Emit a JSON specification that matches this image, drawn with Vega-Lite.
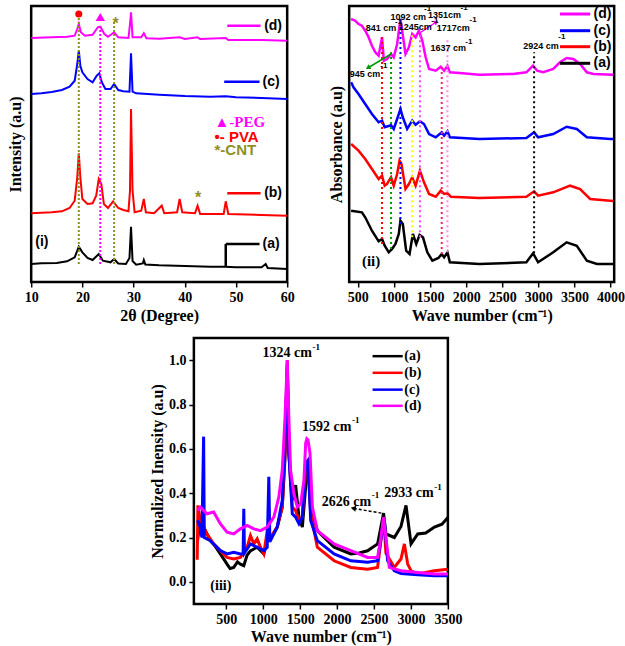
{
"$schema": "https://vega.github.io/schema/vega-lite/v6.json",
"padding": {"left": 5, "top": 2, "right": 0, "bottom": 0},
"config": {
  "view": {"stroke": "#000", "strokeWidth": 2.5},
  "axis": {"domain": false, "grid": false, "labelFont": "Liberation Serif", "labelFontWeight": "bold", "labelFontSize": 14, "labelColor": "#000", "titleFont": "Liberation Serif", "titleFontWeight": "bold", "titleFontSize": 16, "titleColor": "#000", "tickColor": "#000", "tickWidth": 1.5, "tickSize": 5, "labelPadding": 3, "labelOverlap": false, "labelFlush": false}
},
"datasets": {
  "xrd": [
    {"s":"a","x":10,"y":18},{"s":"a","x":12,"y":18.7},{"s":"a","x":15,"y":19},{"s":"a","x":17,"y":20.7},{"s":"a","x":18.5,"y":24.7},{"s":"a","x":19.3,"y":35.3},{"s":"a","x":20,"y":29.7},{"s":"a","x":21,"y":24},{"s":"a","x":22,"y":22},{"s":"a","x":23.2,"y":28},{"s":"a","x":24,"y":21.3},{"s":"a","x":25.5,"y":19.7},{"s":"a","x":26.2,"y":23},{"s":"a","x":27,"y":18.5},{"s":"a","x":28.5,"y":18},{"s":"a","x":29.2,"y":24},{"s":"a","x":29.5,"y":55.3},{"s":"a","x":29.8,"y":21},{"s":"a","x":30.5,"y":17.3},{"s":"a","x":31.8,"y":18.5},{"s":"a","x":32,"y":22},{"s":"a","x":32.3,"y":17.5},{"s":"a","x":35,"y":16.7},{"s":"a","x":40,"y":16},{"s":"a","x":45,"y":15.3},{"s":"a","x":47.8,"y":15.3},{"s":"a","x":50,"y":14.7},{"s":"a","x":55,"y":14.7},{"s":"a","x":55.8,"y":18},{"s":"a","x":56.2,"y":14},{"s":"a","x":60,"y":13},
    {"s":"b","x":10,"y":68.7},{"s":"b","x":12,"y":69.3},{"s":"b","x":14,"y":69.7},{"s":"b","x":16,"y":70.7},{"s":"b","x":17.5,"y":74},{"s":"b","x":18.5,"y":81.3},{"s":"b","x":19,"y":104.7},{"s":"b","x":19.3,"y":128.7},{"s":"b","x":19.6,"y":104.7},{"s":"b","x":20,"y":83},{"s":"b","x":21,"y":78},{"s":"b","x":22,"y":78.7},{"s":"b","x":22.7,"y":86.3},{"s":"b","x":23.2,"y":103},{"s":"b","x":23.7,"y":98},{"s":"b","x":24.2,"y":78},{"s":"b","x":25,"y":74},{"s":"b","x":26,"y":80.7},{"s":"b","x":27,"y":74},{"s":"b","x":28,"y":72},{"s":"b","x":29,"y":70.7},{"s":"b","x":29.3,"y":91.3},{"s":"b","x":29.5,"y":173},{"s":"b","x":29.8,"y":91.3},{"s":"b","x":30.2,"y":69.7},{"s":"b","x":31.5,"y":71.3},{"s":"b","x":32,"y":83},{"s":"b","x":32.4,"y":69.7},{"s":"b","x":34,"y":68.7},{"s":"b","x":35.5,"y":76.3},{"s":"b","x":36,"y":68.7},{"s":"b","x":38.5,"y":69.7},{"s":"b","x":39,"y":83},{"s":"b","x":39.5,"y":69.7},{"s":"b","x":42,"y":68.7},{"s":"b","x":42.5,"y":76.3},{"s":"b","x":43,"y":68},{"s":"b","x":47.6,"y":68},{"s":"b","x":48,"y":80.7},{"s":"b","x":48.5,"y":68},{"s":"b","x":55,"y":67},{"s":"b","x":60,"y":66.3},
    {"s":"c","x":10,"y":188},{"s":"c","x":12,"y":188.7},{"s":"c","x":14,"y":190},{"s":"c","x":16,"y":192},{"s":"c","x":17.5,"y":195.3},{"s":"c","x":18.5,"y":201.3},{"s":"c","x":19,"y":218},{"s":"c","x":19.3,"y":231.3},{"s":"c","x":19.6,"y":216.3},{"s":"c","x":20,"y":209.7},{"s":"c","x":21,"y":203},{"s":"c","x":22,"y":199.7},{"s":"c","x":22.8,"y":206.3},{"s":"c","x":23.3,"y":208.7},{"s":"c","x":23.8,"y":199.7},{"s":"c","x":24.5,"y":193},{"s":"c","x":25.5,"y":193},{"s":"c","x":26.2,"y":198},{"s":"c","x":27,"y":192},{"s":"c","x":28,"y":190.7},{"s":"c","x":29.2,"y":190.3},{"s":"c","x":29.5,"y":228.7},{"s":"c","x":29.8,"y":190.3},{"s":"c","x":30.5,"y":188.7},{"s":"c","x":35,"y":187.3},{"s":"c","x":40,"y":186},{"s":"c","x":45,"y":185.3},{"s":"c","x":48,"y":185.7},{"s":"c","x":50,"y":184.7},{"s":"c","x":55,"y":184},{"s":"c","x":60,"y":183},
    {"s":"d","x":10,"y":244},{"s":"d","x":14,"y":244.7},{"s":"d","x":17,"y":245.3},{"s":"d","x":18.5,"y":246.3},{"s":"d","x":19,"y":253},{"s":"d","x":19.3,"y":258},{"s":"d","x":19.7,"y":249.7},{"s":"d","x":20.5,"y":246.3},{"s":"d","x":22,"y":247.3},{"s":"d","x":23,"y":254.7},{"s":"d","x":23.5,"y":255.3},{"s":"d","x":24.3,"y":248},{"s":"d","x":25,"y":245.3},{"s":"d","x":26.2,"y":249.7},{"s":"d","x":27,"y":244.7},{"s":"d","x":29,"y":244},{"s":"d","x":29.3,"y":258},{"s":"d","x":29.5,"y":269.7},{"s":"d","x":29.8,"y":244.7},{"s":"d","x":31.5,"y":244.7},{"s":"d","x":32,"y":248.7},{"s":"d","x":32.5,"y":243.7},{"s":"d","x":35,"y":243.3},{"s":"d","x":39,"y":244.7},{"s":"d","x":40,"y":243},{"s":"d","x":42.5,"y":244.7},{"s":"d","x":43,"y":243},{"s":"d","x":48,"y":244},{"s":"d","x":48.5,"y":242},{"s":"d","x":55,"y":242},{"s":"d","x":60,"y":241.3}
  ],
  "xrdDots": [{"k":"PVA","x":19.3,"y":18,"y2":265},{"k":"PEG","x":23.5,"y":18,"y2":258},{"k":"CNT","x":26.2,"y":18,"y2":262}],
  "xrdLeg": [{"s":"d","x":48.3,"x2":54.8,"y":256.3},{"s":"c","x":47.7,"x2":54.6,"y":200.3},{"s":"b","x":48.3,"x2":54.8,"y":88.7},{"s":"a","x":48,"x2":54.6,"y":38}],
  "xrdLegV": [{"s":"a","x":48,"y":15,"y2":38}],
  "xrdLegT": [{"t":"(d)","x":55.5,"y":256.3},{"t":"(c)","x":55.2,"y":200.3},{"t":"(b)","x":55.5,"y":88.7},{"t":"(a)","x":55.2,"y":38},{"t":"(i)","x":10.8,"y":40}],
  "ftir": [
    {"s":"a","x":407,"y":71.3},{"s":"a","x":556,"y":69.7},{"s":"a","x":602,"y":64.7},{"s":"a","x":695,"y":51.3},{"s":"a","x":788,"y":40.7},{"s":"a","x":835,"y":43},{"s":"a","x":872,"y":36.3},{"s":"a","x":928,"y":29.7},{"s":"a","x":974,"y":33},{"s":"a","x":1021,"y":38},{"s":"a","x":1067,"y":48},{"s":"a","x":1090,"y":61.3},{"s":"a","x":1123,"y":58},{"s":"a","x":1169,"y":31.3},{"s":"a","x":1216,"y":28},{"s":"a","x":1262,"y":48},{"s":"a","x":1309,"y":38},{"s":"a","x":1355,"y":47},{"s":"a","x":1402,"y":44.7},{"s":"a","x":1462,"y":29.7},{"s":"a","x":1532,"y":21.3},{"s":"a","x":1616,"y":24},{"s":"a","x":1662,"y":28},{"s":"a","x":1695,"y":24.7},{"s":"a","x":1741,"y":29.7},{"s":"a","x":1774,"y":19.7},{"s":"a","x":2183,"y":18},{"s":"a","x":2834,"y":19.7},{"s":"a","x":2927,"y":28.7},{"s":"a","x":2996,"y":19.7},{"s":"a","x":3206,"y":29.7},{"s":"a","x":3392,"y":39.7},{"s":"a","x":3532,"y":36.3},{"s":"a","x":3671,"y":21.3},{"s":"a","x":3811,"y":18},{"s":"a","x":4040,"y":18},
    {"s":"b","x":407,"y":138},{"s":"b","x":509,"y":131.3},{"s":"b","x":602,"y":123},{"s":"b","x":695,"y":113},{"s":"b","x":788,"y":103},{"s":"b","x":835,"y":106.3},{"s":"b","x":872,"y":96.3},{"s":"b","x":904,"y":98},{"s":"b","x":960,"y":104.7},{"s":"b","x":997,"y":96.3},{"s":"b","x":1044,"y":108},{"s":"b","x":1077,"y":121.3},{"s":"b","x":1104,"y":118},{"s":"b","x":1160,"y":93},{"s":"b","x":1207,"y":98},{"s":"b","x":1253,"y":104.7},{"s":"b","x":1300,"y":96.3},{"s":"b","x":1360,"y":111.3},{"s":"b","x":1416,"y":99.7},{"s":"b","x":1486,"y":88},{"s":"b","x":1579,"y":85.3},{"s":"b","x":1648,"y":91.3},{"s":"b","x":1695,"y":88},{"s":"b","x":1741,"y":88.7},{"s":"b","x":1788,"y":85.3},{"s":"b","x":2183,"y":84},{"s":"b","x":2834,"y":85.3},{"s":"b","x":2941,"y":90.7},{"s":"b","x":2996,"y":86.3},{"s":"b","x":3206,"y":89.7},{"s":"b","x":3439,"y":96.3},{"s":"b","x":3578,"y":93},{"s":"b","x":3717,"y":83},{"s":"b","x":3996,"y":81.3},{"s":"b","x":4040,"y":81},
    {"s":"c","x":407,"y":199.7},{"s":"c","x":440,"y":194.7},{"s":"c","x":509,"y":188},{"s":"c","x":602,"y":178},{"s":"c","x":695,"y":168},{"s":"c","x":788,"y":159.7},{"s":"c","x":835,"y":161.3},{"s":"c","x":872,"y":154.7},{"s":"c","x":960,"y":156.7},{"s":"c","x":997,"y":153},{"s":"c","x":1044,"y":163},{"s":"c","x":1090,"y":173},{"s":"c","x":1123,"y":164.7},{"s":"c","x":1183,"y":153},{"s":"c","x":1253,"y":161.3},{"s":"c","x":1300,"y":157.3},{"s":"c","x":1360,"y":160.7},{"s":"c","x":1416,"y":158},{"s":"c","x":1486,"y":148},{"s":"c","x":1579,"y":144.7},{"s":"c","x":1662,"y":149.7},{"s":"c","x":1695,"y":146.3},{"s":"c","x":1741,"y":150.7},{"s":"c","x":1774,"y":144.7},{"s":"c","x":2183,"y":143},{"s":"c","x":2834,"y":144},{"s":"c","x":2941,"y":149.7},{"s":"c","x":2996,"y":144.7},{"s":"c","x":3206,"y":148},{"s":"c","x":3392,"y":155.3},{"s":"c","x":3532,"y":153},{"s":"c","x":3671,"y":144.7},{"s":"c","x":3996,"y":143},{"s":"c","x":4040,"y":143},
    {"s":"d","x":407,"y":263},{"s":"d","x":463,"y":261.3},{"s":"d","x":509,"y":258},{"s":"d","x":556,"y":256.3},{"s":"d","x":602,"y":251.3},{"s":"d","x":649,"y":244.7},{"s":"d","x":695,"y":236.3},{"s":"d","x":742,"y":229.7},{"s":"d","x":788,"y":226.3},{"s":"d","x":835,"y":244.7},{"s":"d","x":860,"y":221.3},{"s":"d","x":904,"y":223},{"s":"d","x":960,"y":228},{"s":"d","x":997,"y":224.7},{"s":"d","x":1044,"y":238},{"s":"d","x":1090,"y":263},{"s":"d","x":1114,"y":251.3},{"s":"d","x":1160,"y":228},{"s":"d","x":1207,"y":234.7},{"s":"d","x":1253,"y":248},{"s":"d","x":1300,"y":244.7},{"s":"d","x":1346,"y":251.3},{"s":"d","x":1393,"y":241.3},{"s":"d","x":1439,"y":224.7},{"s":"d","x":1486,"y":213},{"s":"d","x":1579,"y":211.3},{"s":"d","x":1648,"y":215.3},{"s":"d","x":1695,"y":211.3},{"s":"d","x":1741,"y":216.3},{"s":"d","x":1774,"y":209.7},{"s":"d","x":1950,"y":208.7},{"s":"d","x":2183,"y":207.3},{"s":"d","x":2648,"y":208},{"s":"d","x":2834,"y":209.7},{"s":"d","x":2927,"y":216.3},{"s":"d","x":2983,"y":211.3},{"s":"d","x":3067,"y":209.7},{"s":"d","x":3206,"y":213},{"s":"d","x":3299,"y":219.7},{"s":"d","x":3392,"y":224},{"s":"d","x":3485,"y":223},{"s":"d","x":3578,"y":218},{"s":"d","x":3671,"y":209.7},{"s":"d","x":3764,"y":208},{"s":"d","x":4040,"y":207.3}
  ],
  "ftirDots": [{"k":"841","x":835,"y":38,"y2":244.7},{"k":"945","x":960,"y":33,"y2":229.7},{"k":"1092","x":1090,"y":58,"y2":261},{"k":"1245","x":1253,"y":44.7,"y2":248},{"k":"1351","x":1360,"y":44.7,"y2":250},{"k":"1637","x":1662,"y":28,"y2":216},{"k":"1717","x":1741,"y":29.7,"y2":244.7},{"k":"2924","x":2941,"y":28.7,"y2":229.7}],
  "ftirLab": [{"t":"841 cm","x":821,"y":254},{"t":"945 cm","x":598,"y":208},{"t":"1092 cm","x":1197,"y":265},{"t":"1245cm","x":1295,"y":254.7},{"t":"1351cm","x":1699,"y":267},{"t":"1717cm","x":1820,"y":254},{"t":"1637 cm","x":1751,"y":234},{"t":"2924 cm","x":3038,"y":236.3}],
  "ftirSup": [{"t":"-1","x":1016,"y":260},{"t":"-1","x":811,"y":216.3},{"t":"-1","x":1416,"y":273},{"t":"-1","x":1518,"y":261},{"t":"-1","x":1923,"y":274},{"t":"-1","x":2048,"y":262},{"t":"-1","x":1988,"y":239.7},{"t":"-1","x":3275,"y":244.7}],
  "ftirLeg": [{"s":"d","x":3299,"x2":3718,"y":268},{"s":"c","x":3299,"x2":3718,"y":251.3},{"s":"b","x":3299,"x2":3718,"y":235.3},{"s":"a","x":3299,"x2":3718,"y":218.7}],
  "ftirLegT": [{"t":"(d)","x":3764,"y":268},{"t":"(c)","x":3764,"y":251.3},{"t":"(b)","x":3764,"y":235.3},{"t":"(a)","x":3764,"y":218.7}],
  "raman": [
    {"s":"a","x":110,"y":0.186},{"s":"a","x":147,"y":0.29},{"s":"a","x":192,"y":0.247},{"s":"a","x":283,"y":0.186},{"s":"a","x":350,"y":0.16},{"s":"a","x":418,"y":0.126},{"s":"a","x":470,"y":0.1},{"s":"a","x":509,"y":0.08},{"s":"a","x":550,"y":0.06},{"s":"a","x":600,"y":0.065},{"s":"a","x":650,"y":0.09},{"s":"a","x":690,"y":0.08},{"s":"a","x":736,"y":0.073},{"s":"a","x":780,"y":0.12},{"s":"a","x":826,"y":0.14},{"s":"a","x":917,"y":0.156},{"s":"a","x":1007,"y":0.126},{"s":"a","x":1053,"y":0.186},{"s":"a","x":1098,"y":0.194},{"s":"a","x":1189,"y":0.247},{"s":"a","x":1257,"y":0.337},{"s":"a","x":1293,"y":0.55},{"s":"a","x":1325,"y":0.95},{"s":"a","x":1347,"y":0.58},{"s":"a","x":1393,"y":0.368},{"s":"a","x":1438,"y":0.436},{"s":"a","x":1483,"y":0.292},{"s":"a","x":1529,"y":0.247},{"s":"a","x":1574,"y":0.428},{"s":"a","x":1606,"y":0.55},{"s":"a","x":1642,"y":0.337},{"s":"a","x":1732,"y":0.231},{"s":"a","x":1959,"y":0.156},{"s":"a","x":2186,"y":0.126},{"s":"a","x":2300,"y":0.13},{"s":"a","x":2412,"y":0.14},{"s":"a","x":2548,"y":0.171},{"s":"a","x":2600,"y":0.26},{"s":"a","x":2629,"y":0.31},{"s":"a","x":2661,"y":0.216},{"s":"a","x":2775,"y":0.2},{"s":"a","x":2865,"y":0.25},{"s":"a","x":2933,"y":0.345},{"s":"a","x":3001,"y":0.171},{"s":"a","x":3092,"y":0.216},{"s":"a","x":3200,"y":0.22},{"s":"a","x":3318,"y":0.247},{"s":"a","x":3420,"y":0.26},{"s":"a","x":3500,"y":0.29},
    {"s":"b","x":105,"y":0.1},{"s":"b","x":115,"y":0.345},{"s":"b","x":147,"y":0.277},{"s":"b","x":237,"y":0.216},{"s":"b","x":328,"y":0.171},{"s":"b","x":418,"y":0.141},{"s":"b","x":509,"y":0.11},{"s":"b","x":600,"y":0.103},{"s":"b","x":690,"y":0.11},{"s":"b","x":781,"y":0.156},{"s":"b","x":826,"y":0.209},{"s":"b","x":872,"y":0.171},{"s":"b","x":917,"y":0.194},{"s":"b","x":962,"y":0.156},{"s":"b","x":1007,"y":0.126},{"s":"b","x":1053,"y":0.231},{"s":"b","x":1098,"y":0.201},{"s":"b","x":1189,"y":0.247},{"s":"b","x":1257,"y":0.337},{"s":"b","x":1293,"y":0.579},{"s":"b","x":1325,"y":1.0},{"s":"b","x":1347,"y":0.579},{"s":"b","x":1393,"y":0.337},{"s":"b","x":1438,"y":0.322},{"s":"b","x":1483,"y":0.277},{"s":"b","x":1529,"y":0.292},{"s":"b","x":1574,"y":0.519},{"s":"b","x":1606,"y":0.549},{"s":"b","x":1642,"y":0.307},{"s":"b","x":1732,"y":0.156},{"s":"b","x":1959,"y":0.095},{"s":"b","x":2186,"y":0.065},{"s":"b","x":2412,"y":0.057},{"s":"b","x":2548,"y":0.065},{"s":"b","x":2616,"y":0.247},{"s":"b","x":2629,"y":0.29},{"s":"b","x":2661,"y":0.13},{"s":"b","x":2775,"y":0.065},{"s":"b","x":2865,"y":0.103},{"s":"b","x":2911,"y":0.171},{"s":"b","x":2956,"y":0.08},{"s":"b","x":3001,"y":0.05},{"s":"b","x":3092,"y":0.035},{"s":"b","x":3318,"y":0.05},{"s":"b","x":3500,"y":0.057},
    {"s":"c","x":110,"y":0.277},{"s":"c","x":147,"y":0.247},{"s":"c","x":169,"y":0.2},{"s":"c","x":192,"y":0.655},{"s":"c","x":201,"y":0.2},{"s":"c","x":283,"y":0.186},{"s":"c","x":418,"y":0.141},{"s":"c","x":509,"y":0.126},{"s":"c","x":600,"y":0.133},{"s":"c","x":690,"y":0.126},{"s":"c","x":727,"y":0.126},{"s":"c","x":736,"y":0.33},{"s":"c","x":745,"y":0.13},{"s":"c","x":826,"y":0.171},{"s":"c","x":917,"y":0.156},{"s":"c","x":1007,"y":0.141},{"s":"c","x":1053,"y":0.156},{"s":"c","x":1075,"y":0.474},{"s":"c","x":1089,"y":0.18},{"s":"c","x":1189,"y":0.247},{"s":"c","x":1257,"y":0.368},{"s":"c","x":1293,"y":0.61},{"s":"c","x":1325,"y":0.98},{"s":"c","x":1347,"y":0.579},{"s":"c","x":1393,"y":0.307},{"s":"c","x":1438,"y":0.292},{"s":"c","x":1483,"y":0.262},{"s":"c","x":1529,"y":0.292},{"s":"c","x":1574,"y":0.534},{"s":"c","x":1606,"y":0.549},{"s":"c","x":1642,"y":0.277},{"s":"c","x":1732,"y":0.186},{"s":"c","x":1959,"y":0.126},{"s":"c","x":2186,"y":0.095},{"s":"c","x":2412,"y":0.088},{"s":"c","x":2548,"y":0.095},{"s":"c","x":2616,"y":0.24},{"s":"c","x":2639,"y":0.277},{"s":"c","x":2684,"y":0.095},{"s":"c","x":2775,"y":0.05},{"s":"c","x":2865,"y":0.038},{"s":"c","x":3092,"y":0.032},{"s":"c","x":3318,"y":0.027},{"s":"c","x":3500,"y":0.027},
    {"s":"d","x":110,"y":0.322},{"s":"d","x":147,"y":0.337},{"s":"d","x":237,"y":0.307},{"s":"d","x":328,"y":0.315},{"s":"d","x":418,"y":0.262},{"s":"d","x":509,"y":0.224},{"s":"d","x":600,"y":0.216},{"s":"d","x":690,"y":0.239},{"s":"d","x":781,"y":0.254},{"s":"d","x":872,"y":0.239},{"s":"d","x":962,"y":0.231},{"s":"d","x":1053,"y":0.247},{"s":"d","x":1143,"y":0.292},{"s":"d","x":1211,"y":0.383},{"s":"d","x":1257,"y":0.504},{"s":"d","x":1293,"y":0.731},{"s":"d","x":1325,"y":1.0},{"s":"d","x":1347,"y":0.731},{"s":"d","x":1370,"y":0.504},{"s":"d","x":1415,"y":0.398},{"s":"d","x":1461,"y":0.337},{"s":"d","x":1506,"y":0.352},{"s":"d","x":1551,"y":0.458},{"s":"d","x":1574,"y":0.625},{"s":"d","x":1590,"y":0.645},{"s":"d","x":1606,"y":0.64},{"s":"d","x":1633,"y":0.579},{"s":"d","x":1665,"y":0.337},{"s":"d","x":1732,"y":0.231},{"s":"d","x":1959,"y":0.171},{"s":"d","x":2186,"y":0.141},{"s":"d","x":2412,"y":0.11},{"s":"d","x":2548,"y":0.11},{"s":"d","x":2593,"y":0.2},{"s":"d","x":2629,"y":0.29},{"s":"d","x":2661,"y":0.2},{"s":"d","x":2707,"y":0.065},{"s":"d","x":2865,"y":0.05},{"s":"d","x":3092,"y":0.042},{"s":"d","x":3318,"y":0.035},{"s":"d","x":3500,"y":0.035}
  ],
  "ramLab": [{"t":"1324 cm","x":1325,"y":1.033},{"t":"1592 cm","x":1859,"y":0.70},{"t":"2626 cm","x":2127,"y":0.36},{"t":"2933 cm","x":2974,"y":0.40}],
  "ramSup": [{"t":"-1","x":1668,"y":1.06},{"t":"-1","x":2200,"y":0.728},{"t":"-1","x":2470,"y":0.39},{"t":"-1","x":3315,"y":0.428}],
  "ramLeg": [{"s":"a","x":2480,"x2":2888,"y":1.018},{"s":"b","x":2480,"x2":2888,"y":0.943},{"s":"c","x":2480,"x2":2888,"y":0.867},{"s":"d","x":2480,"x2":2888,"y":0.794}],
  "ramLegT": [{"t":"(a)","x":2910,"y":1.018},{"t":"(b)","x":2910,"y":0.943},{"t":"(c)","x":2910,"y":0.867},{"t":"(d)","x":2910,"y":0.794},{"t":"(iii)","x":283,"y":-0.018}]
},
"vconcat": [
 {"hconcat": [
  {"width": 256, "height": 276,
   "encoding": {
     "x": {"field": "x", "type": "quantitative", "scale": {"domain": [10, 60], "nice": false, "zero": false}, "axis": {"values": [10, 20, 30, 40, 50, 60], "labelOverlap": false, "labelFlush": false, "title": "2θ (Degree)", "titlePadding": 3}},
     "y": {"field": "y", "type": "quantitative", "scale": {"domain": [0, 276], "nice": false, "zero": false}, "axis": {"labels": false, "ticks": false, "title": "Intensity (a.u)", "titlePadding": 8}}
   },
   "layer": [
    {"data": {"name": "xrd"}, "mark": {"type": "line", "strokeWidth": 2, "clip": true},
     "encoding": {"color": {"field": "s", "type": "nominal", "scale": {"domain": ["a","b","c","d"], "range": ["#000000","#ff0000","#0000ff","#ff00ff"]}, "legend": null}}},
    {"data": {"name": "xrdDots"}, "mark": {"type": "rule", "strokeDash": [2, 2], "strokeWidth": 2},
     "encoding": {"y2": {"field": "y2"},
      "stroke": {"field": "k", "type": "nominal", "scale": {"domain": ["PVA","PEG","CNT","841","945","1092","1245","1351","1637","1717","2924"], "range": ["#8f8f1f","#ff00ff","#8f8f1f","#ff0000","#009900","#0000ff","#ffff00","#ff44ff","#ff2060","#ff88ff","#000000"]}, "legend": null}}},
    {"data": {"name": "xrdLeg"}, "mark": {"type": "rule", "strokeWidth": 2.5},
     "encoding": {"x2": {"field": "x2"},
      "color": {"field": "s", "type": "nominal", "scale": {"domain": ["a","b","c","d"], "range": ["#000000","#ff0000","#0000ff","#ff00ff"]}, "legend": null}}},
    {"data": {"name": "xrdLegV"}, "mark": {"type": "rule", "strokeWidth": 2.5, "color": "#000"},
     "encoding": {"y2": {"field": "y2"}}},
    {"data": {"name": "xrdLegT"}, "mark": {"type": "text", "align": "left", "baseline": "middle", "font": "Liberation Sans", "fontWeight": "bold", "fontSize": 14, "color": "#000"},
     "encoding": {"text": {"field": "t"}}},
    {"data": {"values": [{"x": 19.3, "y": 268}]}, "mark": {"type": "point", "shape": "circle", "filled": true, "color": "#ff0000", "size": 50, "opacity": 1}},
    {"data": {"values": [{"x": 23.5, "y": 265}]}, "mark": {"type": "point", "shape": "triangle-up", "filled": true, "color": "#ff00ff", "size": 90, "opacity": 1}},
    {"data": {"values": [{"x": 26.5, "y": 258}, {"x": 42.6, "y": 84}]}, "mark": {"type": "text", "text": "*", "font": "Liberation Sans", "fontWeight": "bold", "fontSize": 16, "color": "#8f8f1f", "baseline": "middle"}},
    {"data": {"values": [{"t": "▲-PEG", "x": 45.8, "y": 160}]}, "mark": {"type": "text", "align": "left", "baseline": "middle", "font": "Liberation Serif", "fontWeight": "bold", "fontSize": 15, "color": "#ff00ff"},
     "encoding": {"text": {"field": "t"}}},
    {"data": {"values": [{"t": "•- PVA", "x": 45.8, "y": 145}]}, "mark": {"type": "text", "align": "left", "baseline": "middle", "font": "Liberation Sans", "fontWeight": "bold", "fontSize": 15, "color": "#ff0000"},
     "encoding": {"text": {"field": "t"}}},
    {"data": {"values": [{"t": "*-CNT", "x": 45.8, "y": 132}]}, "mark": {"type": "text", "align": "left", "baseline": "middle", "font": "Liberation Sans", "fontWeight": "bold", "fontSize": 15, "color": "#8f8f1f"},
     "encoding": {"text": {"field": "t"}}}
   ]},
  {"width": 265, "height": 276,
   "encoding": {
     "x": {"field": "x", "type": "quantitative", "scale": {"domain": [380, 4050], "nice": false, "zero": false}, "axis": {"values": [500, 1000, 1500, 2000, 2500, 3000, 3500, 4000], "format": "d", "labelOverlap": false, "labelFlush": false, "title": "Wave number (cm⁻¹)", "titlePadding": 3}},
     "y": {"field": "y", "type": "quantitative", "scale": {"domain": [0, 276], "nice": false, "zero": false}, "axis": {"labels": false, "ticks": false, "title": "Absorbance (a.u)", "titlePadding": 5}}
   },
   "layer": [
    {"data": {"name": "ftir"}, "mark": {"type": "line", "strokeWidth": 2.5, "clip": true},
     "encoding": {"color": {"field": "s", "type": "nominal", "scale": {"domain": ["a","b","c","d"], "range": ["#000000","#ff0000","#0000ff","#ff00ff"]}, "legend": null}}},
    {"data": {"name": "ftirDots"}, "mark": {"type": "rule", "strokeDash": [2, 3], "strokeWidth": 2},
     "encoding": {"y2": {"field": "y2"},
      "stroke": {"field": "k", "type": "nominal", "scale": {"domain": ["PVA","PEG","CNT","841","945","1092","1245","1351","1637","1717","2924"], "range": ["#8f8f1f","#ff00ff","#8f8f1f","#ff0000","#009900","#0000ff","#ffff00","#ff44ff","#ff2060","#ff88ff","#000000"]}, "legend": null}}},
    {"data": {"values": [{"x": 960, "y": 228, "x2": 660, "y2": 215}]}, "mark": {"type": "rule", "strokeWidth": 1.5, "color": "#009900"},
     "encoding": {"x2": {"field": "x2"}, "y2": {"field": "y2"}}},
    {"data": {"values": [{"x": 649, "y": 214.5}]}, "mark": {"type": "point", "shape": "triangle", "filled": true, "color": "#009900", "size": 30, "angle": 240, "opacity": 1}},
    {"data": {"values": [{"x": 1337, "y": 248, "x2": 1565, "y2": 259}]}, "mark": {"type": "rule", "strokeWidth": 1.5, "color": "#ff00ff"},
     "encoding": {"x2": {"field": "x2"}, "y2": {"field": "y2"}}},
    {"data": {"values": [{"x": 1578, "y": 259.7}]}, "mark": {"type": "point", "shape": "triangle", "filled": true, "color": "#ff00ff", "size": 30, "angle": 56, "opacity": 1}},
    {"data": {"name": "ftirLab"}, "mark": {"type": "text", "align": "center", "baseline": "middle", "font": "Liberation Sans", "fontWeight": "bold", "fontSize": 9, "color": "#000"},
     "encoding": {"text": {"field": "t"}}},
    {"data": {"name": "ftirSup"}, "mark": {"type": "text", "align": "left", "baseline": "middle", "font": "Liberation Sans", "fontWeight": "bold", "fontSize": 8, "color": "#000"},
     "encoding": {"text": {"field": "t"}}},
    {"data": {"name": "ftirLeg"}, "mark": {"type": "rule", "strokeWidth": 3},
     "encoding": {"x2": {"field": "x2"},
      "color": {"field": "s", "type": "nominal", "scale": {"domain": ["a","b","c","d"], "range": ["#000000","#ff0000","#0000ff","#ff00ff"]}, "legend": null}}},
    {"data": {"name": "ftirLegT"}, "mark": {"type": "text", "align": "left", "baseline": "middle", "font": "Liberation Sans", "fontWeight": "bold", "fontSize": 14, "color": "#000"},
     "encoding": {"text": {"field": "t"}}},
    {"data": {"values": [{"t": "(ii)", "x": 556, "y": 21.3}]}, "mark": {"type": "text", "align": "left", "baseline": "middle", "font": "Liberation Serif", "fontWeight": "bold", "fontSize": 15, "color": "#000"},
     "encoding": {"text": {"field": "t"}}}
   ]}
 ], "spacing": 30},
 {"width": 254, "height": 266,
  "encoding": {
    "x": {"field": "x", "type": "quantitative", "scale": {"domain": [60, 3500], "nice": false, "zero": false}, "axis": {"values": [500, 1000, 1500, 2000, 2500, 3000, 3500], "format": "d", "labelOverlap": false, "labelFlush": false, "title": "Wave number (cm⁻¹)", "titlePadding": 2}},
    "y": {"field": "y", "type": "quantitative", "scale": {"domain": [-0.1, 1.1], "nice": false, "zero": false}, "axis": {"values": [0, 0.2, 0.4, 0.6, 0.8, 1.0], "format": ".1f", "labelOverlap": false, "labelFlush": false, "title": "Normalized Inensity (a.u)", "titlePadding": 3}}
  },
  "layer": [
   {"data": {"name": "raman"}, "mark": {"type": "line", "strokeWidth": 3, "clip": true},
    "encoding": {"color": {"field": "s", "type": "nominal", "scale": {"domain": ["a","b","c","d"], "range": ["#000000","#ff0000","#0000ff","#ff00ff"]}, "legend": null}}},
   {"data": {"values": [{"x": 2600, "y": 0.31, "x2": 2245, "y2": 0.33}]}, "mark": {"type": "rule", "strokeWidth": 1.5, "strokeDash": [3, 2], "color": "#000"},
    "encoding": {"x2": {"field": "x2"}, "y2": {"field": "y2"}}},
   {"data": {"values": [{"x": 2231, "y": 0.331}]}, "mark": {"type": "point", "shape": "triangle", "filled": true, "color": "#000", "size": 35, "angle": 280, "opacity": 1}},
   {"data": {"name": "ramLab"}, "mark": {"type": "text", "align": "center", "baseline": "middle", "font": "Liberation Serif", "fontWeight": "bold", "fontSize": 14, "color": "#000"},
    "encoding": {"text": {"field": "t"}}},
   {"data": {"name": "ramSup"}, "mark": {"type": "text", "align": "left", "baseline": "middle", "font": "Liberation Serif", "fontWeight": "bold", "fontSize": 9, "color": "#000"},
    "encoding": {"text": {"field": "t"}}},
   {"data": {"name": "ramLeg"}, "mark": {"type": "rule", "strokeWidth": 2.5},
    "encoding": {"x2": {"field": "x2"},
     "color": {"field": "s", "type": "nominal", "scale": {"domain": ["a","b","c","d"], "range": ["#000000","#ff0000","#0000ff","#ff00ff"]}, "legend": null}}},
   {"data": {"name": "ramLegT"}, "mark": {"type": "text", "align": "left", "baseline": "middle", "font": "Liberation Serif", "fontWeight": "bold", "fontSize": 14, "color": "#000"},
    "encoding": {"text": {"field": "t"}}}
  ]}
],
"spacing": 11,
"center": true
}
